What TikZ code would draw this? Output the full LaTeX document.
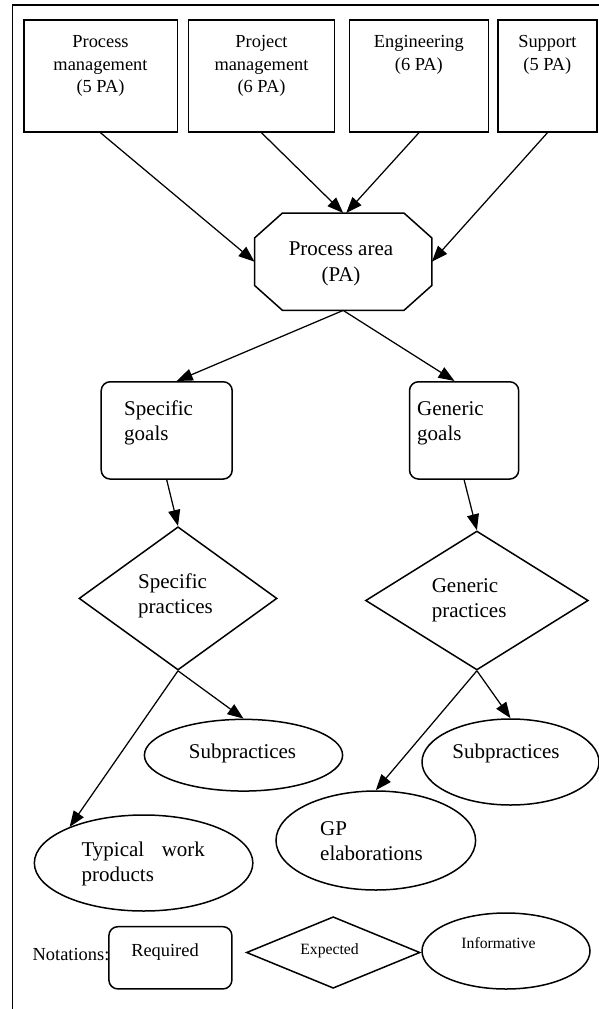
\documentclass[tikz,border=0pt]{standalone}
\usepackage{fontspec}
\setmainfont{Liberation Serif}
\usetikzlibrary{arrows.meta,shapes.geometric}
\begin{document}
\begin{tikzpicture}[x=1pt,y=-1pt,
 shp/.style={draw,line width=1.5pt,inner sep=0pt},
 sq/.style={shp,rectangle},
 rsq/.style={shp,rectangle,rounded corners=9pt},
 ell/.style={shp,ellipse},
 dia/.style={shp,diamond},
 ghost/.style={rectangle,inner sep=0pt},
 arr/.style={-{Triangle[length=16pt,width=12pt]},line width=1.25pt},
 ta/.style={font=\fontsize{18.4}{22.5}\selectfont,align=center,inner sep=0pt},
 tb/.style={font=\fontsize{21}{25}\selectfont,align=left,inner sep=0pt},
 tc/.style={font=\fontsize{15.7}{19}\selectfont,inner sep=0pt}]
\useasboundingbox (0,0) rectangle (599,1009);
% frame
\draw[line width=1.5pt] (12.6,1009) -- (12.6,5) -- (599,5);
% top boxes
\node[sq,minimum width=153.5pt,minimum height=112pt] (b1) at (100.5,76) {};
\node[sq,minimum width=146.3pt,minimum height=112pt] (b2) at (261.5,76) {};
\node[sq,minimum width=138.7pt,minimum height=112pt] (b3) at (418.9,76) {};
\node[sq,minimum width=99.3pt,minimum height=112pt] (b4) at (547.4,76) {};
\node[ta] (t1) at (100.5,66) {Process\\management\\(5 PA)};
\node[ta] (t2) at (261.5,66) {Project\\management\\(6 PA)};
\node[ta] (t3) at (418.9,55) {Engineering\\(6 PA)};
\node[ta] (t4) at (547.4,55) {Support\\(5 PA)};
% process area octagon
\node[ghost,minimum width=177pt,minimum height=97pt] (pa) at (343.2,261.7) {};
\draw[line width=1.5pt] ([xshift=28pt]pa.north west) -- ([xshift=-28pt]pa.north east)
  -- ([yshift=-25pt]pa.north east) -- ([yshift=25pt]pa.south east)
  -- ([xshift=-28pt]pa.south east) -- ([xshift=28pt]pa.south west)
  -- ([yshift=25pt]pa.south west) -- ([yshift=-25pt]pa.north west) -- cycle;
\node[tb,align=center,font=\fontsize{21}{26}\selectfont] (tpa) at (341,264) {Process area\\(PA)};
% goals
\node[rsq,minimum width=131pt,minimum height=97.3pt] (sg) at (166.7,430.4) {};
\node[rsq,minimum width=109.2pt,minimum height=97.3pt] (gg) at (464.1,430.4) {};
\node[tb,anchor=west] (tsg) at (124,423) {Specific\\goals};
\node[tb,anchor=west] (tgg) at (417,423) {Generic\\goals};
% practices
\node[dia,minimum width=198pt,minimum height=143.3pt] (sp) at (178,598.4) {};
\node[dia,minimum width=222.7pt,minimum height=139pt] (gpr) at (476.9,600.5) {};
\node[tb,anchor=west] (tsp) at (138,596) {Specific\\practices};
\node[tb,anchor=west] (tgp) at (431.6,600) {Generic\\practices};
% ellipses
\node[ell,minimum width=198.2pt,minimum height=71.7pt] (sub1) at (243.5,755.2) {};
\node[ell,minimum width=218.5pt,minimum height=96pt] (tw) at (143.6,863) {};
\node[ell,minimum width=177pt,minimum height=86pt] (sub2) at (510.5,762) {};
\node[ell,minimum width=199.6pt,minimum height=99pt] (gpe) at (375.8,840.5) {};
\node[tb] (tsub1) at (242.5,753) {Subpractices};
\node[tb] (tsub2) at (506,753) {Subpractices};
\node[tb,anchor=west] (ttw) at (81.4,864) {Typical\hspace{17.5pt}work\\products};
\node[tb,anchor=west] (tgpe) at (320,841) {GP\\elaborations};
% legend
\node[ta,anchor=west] (tnot) at (32.5,955) {Notations:};
\node[rsq,minimum width=123pt,minimum height=62.3pt] (lreq) at (170.4,957.8) {};
\node[ta] (treq) at (165,952) {Required};
\node[dia,minimum width=173.6pt,minimum height=71.6pt] (lexp) at (333.2,952.5) {};
\node[tc] (texp) at (329.6,951) {Expected};
\node[ell,minimum width=168pt,minimum height=76pt] (linf) at (506,951) {};
\node[tc] (tinf) at (498.5,943) {Informative};
% connectors
\draw[arr] (b1.south) -- (pa.west);
\draw[arr] (b2.south) -- (pa.north);
\draw[arr] (b3.south) -- ([xshift=3pt]pa.north);
\draw[arr] (b4.south) -- (pa.east);
\draw[arr] (pa.south) -- ([xshift=10pt]sg.north);
\draw[arr] (pa.south) -- ([xshift=-9.6pt]gg.north);
\draw[arr] (sg.south) -- (sp.north);
\draw[arr] (gg.south) -- (gpr.north);
\draw[arr] (sp.south) -- (sub1.north);
\draw[arr] (sp.south) -- (tw.154);
\draw[arr] (gpr.south) -- (sub2.north);
\draw[arr] (gpr.south) -- (gpe.north);
\end{tikzpicture}
\end{document}
